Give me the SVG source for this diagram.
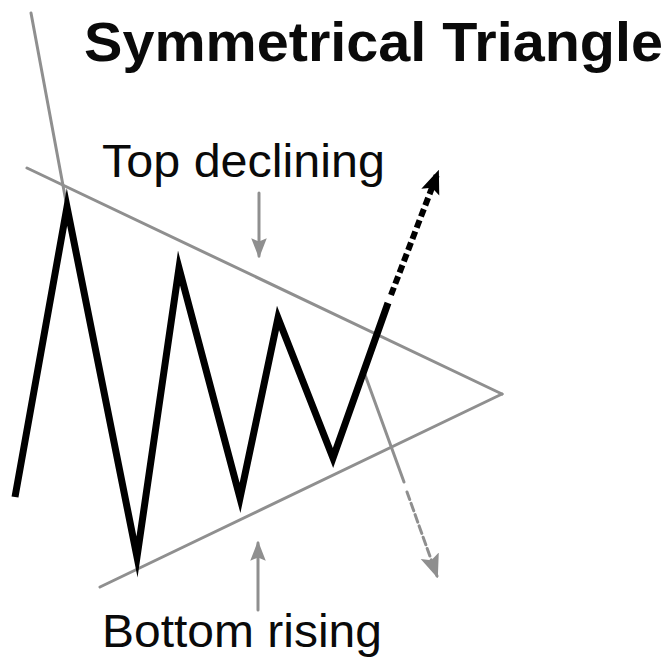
<svg xmlns="http://www.w3.org/2000/svg" width="672" height="660" viewBox="0 0 672 660">
<style>
.t{font-family:"Liberation Sans",Arial,sans-serif;fill:#0a0a0a}
.g{stroke:#8f8f8f;stroke-width:3;fill:none;stroke-linecap:round}
.k{stroke:#000;stroke-width:7;fill:none;stroke-linejoin:miter;stroke-miterlimit:10}
</style>
<defs>
<marker id="ak" markerUnits="userSpaceOnUse" markerWidth="24" markerHeight="24" refX="18" refY="8" orient="auto" viewBox="0 0 20 16">
<path d="M0,0 L20,8 L0,16 L4,8 Z" fill="#000"/>
</marker>
<marker id="ag" markerUnits="userSpaceOnUse" markerWidth="20" markerHeight="20" refX="16" refY="7" orient="auto" viewBox="0 0 18 14">
<path d="M0,0 L18,7 L0,14 L3,7 Z" fill="#8f8f8f"/>
</marker>
<marker id="ag2" markerUnits="userSpaceOnUse" markerWidth="24" markerHeight="24" refX="18" refY="8" orient="auto" viewBox="0 0 20 16">
<path d="M0,0 L20,8 L0,16 L4,8 Z" fill="#8f8f8f"/>
</marker>
</defs>
<rect width="672" height="660" fill="#fff"/>
<g id="title"><text class="t" x="84" y="61" font-size="56" font-weight="bold" textLength="579" lengthAdjust="spacingAndGlyphs">Symmetrical Triangle</text></g>
<g id="connectors">
<line class="g" x1="31" y1="13" x2="67" y2="207"/>
<line class="g" x1="27" y1="168" x2="502" y2="394"/>
<line class="g" x1="100" y1="587" x2="502" y2="394"/>
<line class="g" x1="364" y1="372" x2="404" y2="482"/>
<line class="g" x1="407" y1="492" x2="437" y2="576" stroke-dasharray="8 4" stroke-linecap="butt" stroke-width="5" marker-end="url(#ag2)"/>
<line class="g" x1="259" y1="193" x2="259" y2="256" stroke-width="4" stroke-linecap="butt" marker-end="url(#ag)"/>
<line class="g" x1="258" y1="610" x2="258" y2="543" stroke-width="4" stroke-linecap="butt" marker-end="url(#ag)"/>
<polyline class="k" points="15,497 67,207 137,557 179,268 240,498 278,318 333,458 388,303"/>
<line x1="391" y1="295" x2="438" y2="172" stroke="#000" stroke-width="6" stroke-dasharray="8 4" marker-end="url(#ak)"/>
</g>
<g id="label-top"><text class="t" x="102" y="177" font-size="46" textLength="283" lengthAdjust="spacingAndGlyphs">Top declining</text></g>
<g id="label-bottom"><text class="t" x="102" y="647" font-size="46" textLength="280" lengthAdjust="spacingAndGlyphs">Bottom rising</text></g>
</svg>
